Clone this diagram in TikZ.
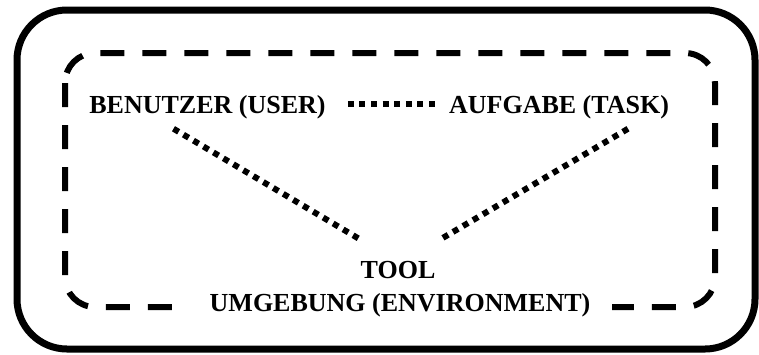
\documentclass[tikz,border=0pt]{standalone}
\usepackage{fontspec}
\setmainfont{Liberation Serif}
\begin{document}
\begin{tikzpicture}[x=1pt,y=-1pt,
  lbl/.style={font=\bfseries\fontsize{26}{30}\selectfont, inner sep=0pt, anchor=base},
  dotline/.style={line width=6pt, dash pattern=on 6pt off 5.6pt},
  outerbox/.style={line width=7pt, rounded corners=50pt},
  envbox/.style={line width=6pt, dash pattern=on 24pt off 18pt, rounded corners=30pt}]
\useasboundingbox (0,0) rectangle (759,354);
\draw[outerbox] (17,10) rectangle (755,349);
\draw[envbox] (65,53) rectangle (715,307);
\node[lbl] (user) at (207.5,113) {BENUTZER (USER)};
\node[lbl] (task) at (559,113) {AUFGABE (TASK)};
\node[lbl] (tool) at (398,278) {TOOL};
\node[lbl, fill=white, inner xsep=22pt, inner ysep=2pt] (env) at (400,311) {UMGEBUNG (ENVIRONMENT)};
\draw[dotline] ([xshift=22pt,yshift=9pt]user.base east) -- ([xshift=-9pt,yshift=9pt]task.base west);
\draw[dotline] ([xshift=-34pt,yshift=-10pt]user.south) -- ([xshift=-36pt,yshift=20pt]tool.north);
\draw[dotline] ([xshift=69pt,yshift=-10pt]task.south) -- ([xshift=42pt,yshift=21pt]tool.north);
\end{tikzpicture}
\end{document}
